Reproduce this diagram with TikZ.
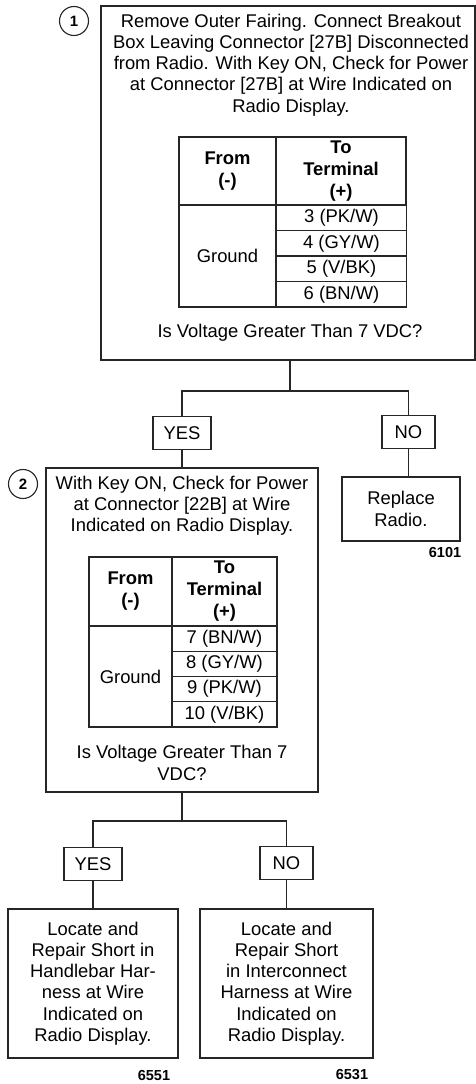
\documentclass[tikz,border=0pt]{standalone}
\usepackage{fontspec}
\setmainfont{Liberation Sans}
\usetikzlibrary{positioning}

\tikzset{
  stepbox/.style={draw=black!85, line width=1.1pt, inner sep=0pt, outer sep=0pt, align=center, font=\fontsize{18.4}{21.3}\selectfont},
  steptext/.style={align=center, inner sep=0pt, font=\fontsize{18.4}{21.2}\selectfont},
  answer/.style={draw=black!85, line width=1.1pt, minimum height=33pt, inner sep=0pt, outer sep=0pt, font=\fontsize{18.4}{21}\selectfont},
  cell/.style={draw=black!85, line width=1.1pt, inner sep=0pt, outer sep=0pt, align=center, font=\fontsize{18.4}{22}\selectfont},
  head/.style={cell, font=\bfseries\fontsize{18.4}{22}\selectfont},
  stepnum/.style={circle, draw=black!85, line width=1.1pt, minimum size=29pt, inner sep=0pt, font=\bfseries\fontsize{15}{15}\selectfont},
  refcode/.style={inner sep=0pt, font=\bfseries\fontsize{14.5}{14.5}\selectfont},
  link/.style={draw=black!85, line width=1.1pt}
}

\begin{document}
\begin{tikzpicture}[x=1pt, y=-1pt]
    \useasboundingbox (0,0) rectangle (476,1084);

    % Step 1
    \node[stepbox, minimum width=374, minimum height=354] (box1) at (288,183) {};
    \node[stepnum] (num1) at (74,21) {1};
    \node[steptext] (txt1) at (291,65) {Remove Outer Fairing. Connect Breakout\\Box Leaving Connector [27B] Disconnected\\from Radio. With Key ON, Check for Power\\at Connector [27B] at Wire Indicated on\\Radio Display.};

    % Table of step 1
    \node[head, minimum width=97, minimum height=68] (from1) at (227.5,171) {From\\(-)};
    \node[head, minimum width=130, minimum height=68, right=0pt of from1] (to1) {To\\Terminal\\(+)};
    \node[cell, minimum width=97, minimum height=102, below=0pt of from1] (gnd1) {Ground};
    \foreach \w [count=\i] in {3 (PK/W), 4 (GY/W), 5 (V/BK), 6 (BN/W)} {
        \node[cell, minimum width=130, minimum height=25.5] (row1\i) at (341.5,192.25+25.5*\i) {\w};
    }
    \node[steptext] (q1) at (290,333) {Is Voltage Greater Than 7 VDC?};

    % Answers of step 1
    \coordinate (split1) at (290,391);
    \node[answer, minimum width=58] (yes1) at (182,433) {YES};
    \node[answer, minimum width=53] (no1) at (408.5,432) {NO};
    \draw[link] (box1.south -| split1) -- (split1);
    \draw[link] (yes1.north) |- (split1) -| (no1.north);

    \node[stepbox, minimum width=118, minimum height=64] (rep) at (401,509) {Replace\\Radio.};
    \draw[link] (no1.south) -- (no1.south |- rep.north);
    \node[refcode] (c6101) at (445,553) {6101};

    % Step 2
    \node[stepbox, minimum width=272, minimum height=324] (box2) at (182,630) {};
    \draw[link] (yes1.south) -- (box2.north);
    \node[stepnum] (num2) at (23,484) {2};
    \node[steptext] (txt2) at (182,506) {With Key ON, Check for Power\\at Connector [22B] at Wire\\Indicated on Radio Display.};

    % Table of step 2
    \node[head, minimum width=83, minimum height=69] (from2) at (130.5,591.5) {From\\(-)};
    \node[head, minimum width=105, minimum height=69, right=0pt of from2] (to2) {To\\Terminal\\(+)};
    \node[cell, minimum width=83, minimum height=101, below=0pt of from2] (gnd2) {Ground};
    \foreach \w [count=\i] in {7 (BN/W), 8 (GY/W), 9 (PK/W), 10 (V/BK)} {
        \node[cell, minimum width=105, minimum height=25.25] (row2\i) at (224.5,613.375+25.25*\i) {\w};
    }
    \node[steptext] (q2) at (182,763) {Is Voltage Greater Than 7\\VDC?};

    % Answers of step 2
    \coordinate (split2) at (182,821);
    \node[answer, minimum width=58] (yes2) at (93,864) {YES};
    \node[answer, minimum width=53] (no2) at (286.5,863) {NO};
    \draw[link] (box2.south) -- (split2);
    \draw[link] (yes2.north) |- (split2) -| (no2.north);

    \node[stepbox, minimum width=170, minimum height=149] (fix1) at (93,983.5) {Locate and\\Repair Short in\\Handlebar Har-\\ness at Wire\\Indicated on\\Radio Display.};
    \node[stepbox, minimum width=173, minimum height=149] (fix2) at (286.5,983.5) {Locate and\\Repair Short\\in Interconnect\\Harness at Wire\\Indicated on\\Radio Display.};
    \draw[link] (yes2.south) -- (fix1.north);
    \draw[link] (no2.south) -- (fix2.north);
    \node[refcode] (c6551) at (154,1075) {6551};
    \node[refcode] (c6531) at (352,1075) {6531};
\end{tikzpicture}
\end{document}
